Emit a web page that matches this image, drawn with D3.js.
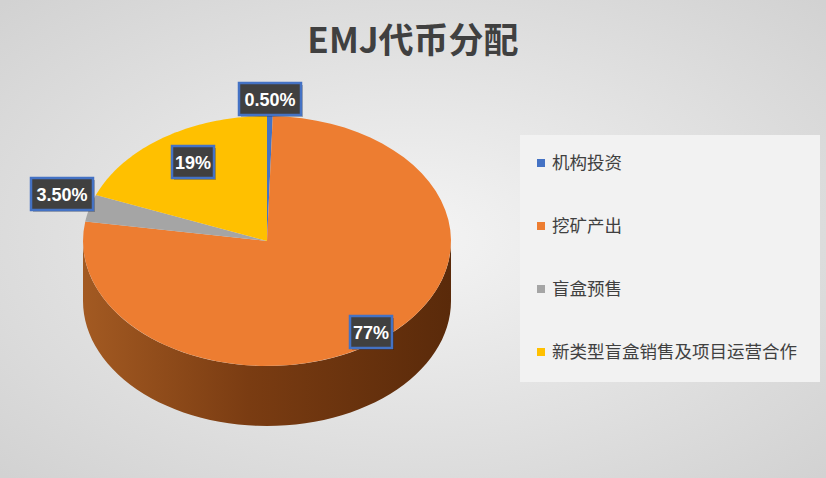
<!DOCTYPE html>
<html><head><meta charset="utf-8">
<script src="https://cdn.jsdelivr.net/npm/d3@7"></script>
<style>body{margin:0;}</style></head>
<body><svg id="c" width="826" height="478"></svg>
<script>
const categories = ['机构投资', '挖矿产出', '盲盒预售', '新类型盲盒销售及项目运营合作'];
const values = [0.5, 77, 3.5, 19];
const labels = ['0.50%', '77%', '3.50%', '19%'];
const colors = ['#4472c4', '#ed7d31', '#a5a5a5', '#ffc000'];
const sideColors = ['#2f528f', '#8a4516', '#6f6f6f', '#b38600'];

const CX = 267, CY = 241, RX = 184, RY = 125, DEPTH = 60;
const svg = d3.select('#c');
const defs = svg.append('defs');

const bg = defs.append('radialGradient').attr('id', 'bg').attr('cx', '50%').attr('cy', '50%').attr('r', '70%');
bg.append('stop').attr('offset', '0%').attr('stop-color', '#f4f4f4');
bg.append('stop').attr('offset', '100%').attr('stop-color', '#d2d2d2');
svg.append('rect').attr('width', 826).attr('height', 478).attr('fill', 'url(#bg)');

const side = defs.append('linearGradient').attr('id', 'side').attr('x1', '0').attr('x2', '1');
side.append('stop').attr('offset', '0%').attr('stop-color', '#a35a22');
side.append('stop').attr('offset', '45%').attr('stop-color', '#7a3c12');
side.append('stop').attr('offset', '100%').attr('stop-color', '#5a2a0a');

svg.append('text').attr('x', 413).attr('y', 53).attr('text-anchor', 'middle')
  .attr('font-family', 'Noto Sans CJK SC').attr('font-weight', 'bold').attr('font-size', 35)
  .attr('fill', '#404040').text('EMJ代币分配');

const pie = d3.pie().sort(null).value(d => d)(values);
const px = a => CX + RX * Math.sin(a);
const py = a => CY - RY * Math.cos(a);
const steps = (a0, a1) => d3.range(0, 61).map(i => a0 + (a1 - a0) * i / 60);
const line = d3.line();

// side walls (front half only)
pie.forEach((p, i) => {
  const a0 = Math.max(p.startAngle, Math.PI / 2), a1 = Math.min(p.endAngle, 3 * Math.PI / 2);
  if (a1 <= a0) return;
  const top = steps(a0, a1).map(a => [px(a), py(a)]);
  const bot = steps(a1, a0).map(a => [px(a), py(a) + DEPTH]);
  svg.append('path').attr('d', line(top.concat(bot)) + 'Z')
    .attr('fill', i === 1 ? 'url(#side)' : sideColors[i]);
});

// top faces
pie.forEach((p, i) => {
  const pts = [[CX, CY]].concat(steps(p.startAngle, p.endAngle).map(a => [px(a), py(a)]));
  svg.append('path').attr('d', line(pts) + 'Z').attr('fill', colors[i]);
});

// data labels
const labelPos = [[270, 99], [371, 332], [62, 194], [193, 162]];
labels.forEach((t, i) => {
  const g = svg.append('g').attr('transform', `translate(${labelPos[i][0]},${labelPos[i][1]})`);
  const w = t.length * 10 + 12;
  g.append('rect').attr('x', -w / 2 + 2).attr('y', -14).attr('width', w).attr('height', 32).attr('fill', 'rgba(0,0,0,0.25)');
  g.append('rect').attr('x', -w / 2).attr('y', -16).attr('width', w).attr('height', 32)
    .attr('fill', '#404040').attr('stroke', '#4472c4').attr('stroke-width', 2.5);
  g.append('text').attr('text-anchor', 'middle').attr('y', 7).attr('font-family', 'Liberation Sans')
    .attr('font-weight', 'bold').attr('font-size', 18).attr('fill', '#fff').text(t);
});

// legend
svg.append('rect').attr('x', 520).attr('y', 135).attr('width', 300).attr('height', 247).attr('fill', '#f2f2f2');
const ly = d3.scalePoint().domain(categories).range([163, 352]);
categories.forEach((c, i) => {
  svg.append('rect').attr('x', 537).attr('y', ly(c) - 4).attr('width', 8).attr('height', 8).attr('fill', colors[i]);
  svg.append('text').attr('x', 552).attr('y', ly(c) + 6).attr('font-family', 'Noto Sans CJK SC')
    .attr('font-size', 17.5).attr('fill', '#404040').text(c);
});
</script></body></html>
